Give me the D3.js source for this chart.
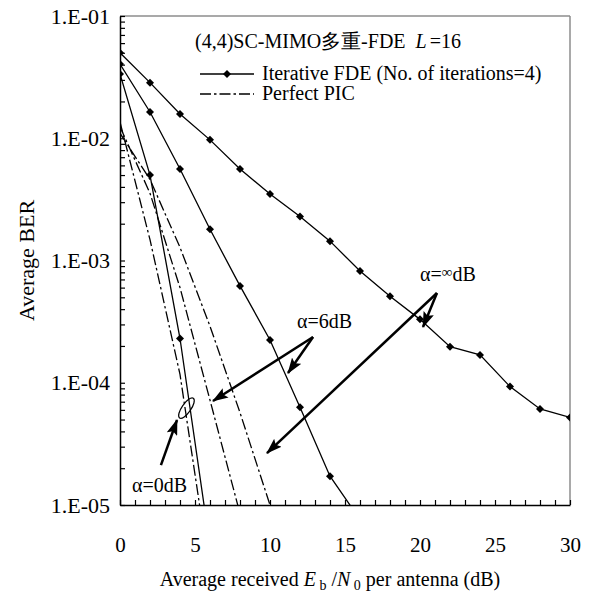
<!DOCTYPE html>
<html>
<head>
<meta charset="utf-8">
<script src="https://cdn.jsdelivr.net/npm/d3@7"></script>
<style>
  body { margin: 0; background: #fff; }
  svg { display: block; font-family: "Liberation Serif", "Times New Roman", serif; }
</style>
</head>
<body>
<div id="chart"></div>
<script>
// Eb/N0 (dB) sample points
const snrIter = [0, 2, 4, 6, 8, 10, 12, 14, 16, 18, 20, 22, 24, 26, 28, 30];
const snrPic  = [0, 2, 4, 6, 8, 10, 12];

// Iterative FDE (No. of iterations = 4), BER
const iterInf = [5.0e-2, 2.85e-2, 1.58e-2, 9.7e-3, 5.6e-3, 3.5e-3, 2.29e-3, 1.44e-3, 8.2e-4, 5.1e-4, 3.3e-4, 1.97e-4, 1.69e-4, 9.3e-5, 6.1e-5, 5.2e-5];
const iter6   = [4.05e-2, 1.64e-2, 5.6e-3, 1.8e-3, 6.2e-4, 2.24e-4, 6.3e-5, 1.72e-5, 7.6e-6];
const iter0   = [3.36e-2, 5.0e-3, 2.3e-4, 4.6e-6];

// Perfect PIC, BER
const pic0   = [1.36e-2, 1.48e-3, 1.17e-4, 2.7e-6];
const pic6   = [1.24e-2, 3.55e-3, 6.0e-4, 7.2e-5, 8.5e-6];
const picInf = [1.1e-2, 4.6e-3, 1.28e-3, 2.9e-4, 5.7e-5, 1.0e-5, 1.7e-6];

const yTickLabels = ["1.E-05", "1.E-04", "1.E-03", "1.E-02", "1.E-01"];

const W = 593, H = 595;
const margin = { top: 16, right: 23, bottom: 90, left: 120 };
const width = W - margin.left - margin.right,
      height = H - margin.top - margin.bottom;

const svg = d3.select("#chart").append("svg")
  .attr("width", W).attr("height", H);

const defs = svg.append("defs");
defs.append("clipPath").attr("id", "plotclip")
  .append("rect").attr("width", width).attr("height", height);
defs.append("marker")
  .attr("id", "head")
  .attr("viewBox", "0 0 16 11")
  .attr("refX", 15).attr("refY", 5.5)
  .attr("markerUnits", "userSpaceOnUse")
  .attr("markerWidth", 16).attr("markerHeight", 11)
  .attr("orient", "auto")
  .append("path").attr("d", "M0,0 L16,5.5 L0,11 L3,5.5 Z").attr("fill", "#000");

const g = svg.append("g").attr("transform", `translate(${margin.left},${margin.top})`);

const x = d3.scaleLinear().domain([0, 30]).range([0, width]);
const y = d3.scaleLog().domain([1e-5, 1e-1]).range([height, 0]);

// frame: top and right in grey
g.append("line").attr("x1", 0).attr("x2", width).attr("y1", 0).attr("y2", 0)
  .attr("stroke", "#8c8c8c").attr("stroke-width", 1.5);
g.append("line").attr("x1", width).attr("x2", width).attr("y1", 0).attr("y2", height)
  .attr("stroke", "#8c8c8c").attr("stroke-width", 1.5);

// axes
const yTicks = [];
for (let e = -5; e < -1; e++) for (let m = 1; m < 10; m++) yTicks.push(m * Math.pow(10, e));
yTicks.push(1e-1);

const xAxis = g.append("g").attr("transform", `translate(0,${height})`)
  .call(d3.axisBottom(x).tickValues(d3.range(0, 31)).tickSizeInner(-5).tickSizeOuter(0)
    .tickPadding(32).tickFormat(d => d % 5 === 0 ? d : ""));
const yAxis = g.append("g")
  .call(d3.axisLeft(y).tickValues(yTicks).tickSizeInner(-5).tickSizeOuter(0)
    .tickPadding(10).tickFormat(d => {
      const e = Math.round(Math.log10(d));
      return Math.abs(d - Math.pow(10, e)) < 1e-12 ? yTickLabels[e + 5] : "";
    }));
[xAxis, yAxis].forEach(a => {
  a.select(".domain").attr("stroke-width", 1.5);
  a.selectAll(".tick line").attr("stroke-width", 1.2);
  a.selectAll("text").attr("font-size", 21).attr("font-family", "Liberation Serif").attr("fill", "#000");
});
yAxis.selectAll("text").attr("font-size", 22);

// curves
const plot = g.append("g").attr("clip-path", "url(#plotclip)");
const line = d3.line().x(d => x(d[0])).y(d => y(d[1]));
const zip = (xs, ys) => ys.map((v, i) => [xs[i], v]);

const picDash = "11,3,2.5,3";
[pic0, pic6, picInf].forEach(s => {
  plot.append("path").datum(zip(snrPic, s)).attr("d", line)
    .attr("fill", "none").attr("stroke", "#000").attr("stroke-width", 1.3)
    .attr("stroke-dasharray", picDash);
});

const diamond = d3.symbol().type(d3.symbolSquare).size(32);
[iterInf, iter6, iter0].forEach(s => {
  const pts = zip(snrIter, s);
  plot.append("path").datum(pts).attr("d", line)
    .attr("fill", "none").attr("stroke", "#000").attr("stroke-width", 1.3);
  plot.selectAll(null).data(pts).join("path")
    .attr("d", diamond)
    .attr("transform", d => `translate(${x(d[0])},${y(d[1])}) rotate(45)`)
    .attr("fill", "#000");
});

// title and legend
const title = g.append("text").attr("x", 75).attr("y", 32).attr("font-size", 20);
title.append("tspan").text("(4,4)SC-MIMO多重-FDE");
title.append("tspan").attr("dx", 10).attr("font-style", "italic").text("L");
title.append("tspan").attr("dx", 3).text("=16");

const legend = g.append("g").attr("transform", "translate(80,58)");
legend.append("line").attr("x1", 0).attr("x2", 54).attr("stroke", "#000").attr("stroke-width", 1.3);
legend.append("path").attr("d", diamond).attr("transform", "translate(27,0) rotate(45)");
legend.append("text").attr("x", 62).attr("y", 6).attr("font-size", 20)
  .text("Iterative FDE (No. of iterations=4)");
legend.append("line").attr("x1", 0).attr("x2", 54).attr("y1", 20).attr("y2", 20)
  .attr("stroke", "#000").attr("stroke-width", 1.3).attr("stroke-dasharray", picDash);
legend.append("text").attr("x", 62).attr("y", 26).attr("font-size", 20).text("Perfect PIC");

// annotations (data coordinates)
const arrow = (a, b) => g.append("line")
  .attr("x1", x(a[0])).attr("y1", y(a[1])).attr("x2", x(b[0])).attr("y2", y(b[1]))
  .attr("stroke", "#000").attr("stroke-width", 2.5).attr("marker-end", "url(#head)");

g.append("text").attr("x", x(0.8)).attr("y", y(1.28e-5)).attr("font-size", 20).text("α=0dB");
arrow([2.73, 2.12e-5], [3.8, 4.96e-5]);
g.append("ellipse").attr("cx", x(4.43)).attr("cy", y(6.2e-5)).attr("rx", 12).attr("ry", 4.5)
  .attr("transform", `rotate(-55,${x(4.43)},${y(6.2e-5)})`)
  .attr("fill", "none").attr("stroke", "#000").attr("stroke-width", 1.2);

g.append("text").attr("x", x(11.8)).attr("y", y(2.8e-4)).attr("font-size", 20).text("α=6dB");
arrow([12.87, 2.37e-4], [6.2, 7.1e-5]);
arrow([12.87, 2.37e-4], [11.2, 1.2e-4]);

const inf = g.append("text").attr("x", x(20)).attr("y", y(6.8e-4)).attr("font-size", 20);
inf.append("tspan").text("α=");
inf.append("tspan").attr("font-size", 15).attr("dy", -4).text("∞");
inf.append("tspan").attr("dy", 4).text("dB");
arrow([21.13, 5.42e-4], [20.2, 2.86e-4]);
arrow([21.13, 5.42e-4], [9.8, 2.66e-5]);

// axis titles
svg.append("text").attr("transform", `translate(34,${margin.top + height / 2}) rotate(-90)`)
  .attr("text-anchor", "middle").attr("font-size", 22).text("Average BER");

const xt = svg.append("text").attr("x", 330).attr("y", 586)
  .attr("text-anchor", "middle").attr("font-size", 20);
xt.append("tspan").text("Average received ");
xt.append("tspan").attr("font-style", "italic").text("E");
xt.append("tspan").attr("font-size", 14).attr("dy", 4).text(" b");
xt.append("tspan").attr("dy", -4).text(" /");
xt.append("tspan").attr("font-style", "italic").text("N");
xt.append("tspan").attr("font-size", 14).attr("dy", 4).text(" 0");
xt.append("tspan").attr("dy", -4).text(" per antenna (dB)");
</script>
</body>
</html>
